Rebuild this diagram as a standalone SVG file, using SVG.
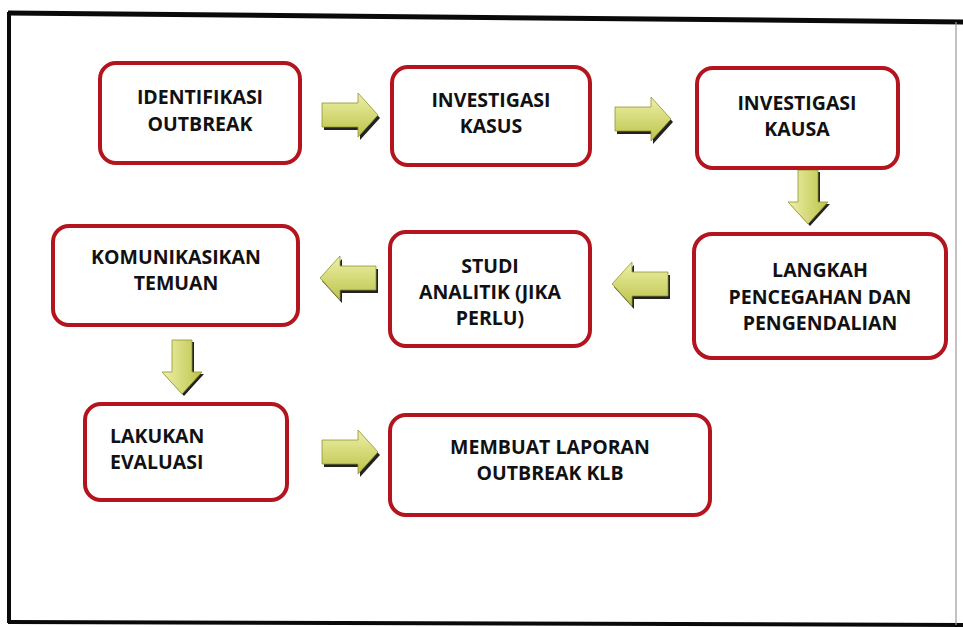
<svg xmlns="http://www.w3.org/2000/svg" width="963" height="627" viewBox="0 0 963 627">
<defs>
<linearGradient id="gr" x1="0" y1="0" x2="0" y2="1">
<stop offset="0" stop-color="#eef0a8"/>
<stop offset="1" stop-color="#bcc34a"/>
</linearGradient>
<linearGradient id="gd" x1="0" y1="0" x2="1" y2="0">
<stop offset="0" stop-color="#eef0a8"/>
<stop offset="1" stop-color="#bcc34a"/>
</linearGradient>
<path id="ar" d="M0,10 H36 V0 L56,22 L36,44 V34 H0 Z"/>
<path id="ad" d="M10,0 H30 V32 H40 L20,54 L0,32 H10 Z"/>
</defs>
<style>
.box{fill:#fff;stroke:#b3141e;stroke-width:4}
.t{font-family:"Open Sans","Liberation Sans",sans-serif;font-weight:700;font-size:19.5px;fill:#111;text-anchor:middle}
.l{text-anchor:start}
.sh{fill:#222}
.ah{fill:url(#gr);stroke:#8e9530;stroke-width:0.8}
.av{fill:url(#gd);stroke:#8e9530;stroke-width:0.8}
</style>
<rect width="963" height="627" fill="#fff"/>
<g id="frame" fill="none" stroke="#0a0a0a">
<path d="M8,13 L963,22" stroke-width="5"/>
<path d="M9,12 V623" stroke-width="4"/>
<path d="M8,622 L963,625" stroke-width="4"/>
<path d="M956,22 V625" stroke-width="1.2" stroke="#999"/>
</g>
<g id="connectors">
<g transform="translate(322,93)"><use href="#ar" class="sh" transform="translate(2,3)"/><use href="#ar" class="ah"/></g>
<g transform="translate(615,97)"><use href="#ar" class="sh" transform="translate(2,3)"/><use href="#ar" class="ah"/></g>
<g transform="translate(788,170)"><use href="#ad" class="sh" transform="translate(2,2)"/><use href="#ad" class="av"/></g>
<g transform="translate(668,262) scale(-1,1)"><use href="#ar" class="sh" transform="translate(-2,3)"/><use href="#ar" class="ah"/></g>
<g transform="translate(376,256) scale(-1,1)"><use href="#ar" class="sh" transform="translate(-2,3)"/><use href="#ar" class="ah"/></g>
<g transform="translate(162,340)"><use href="#ad" class="sh" transform="translate(2,2)"/><use href="#ad" class="av"/></g>
<g transform="translate(322,430)"><use href="#ar" class="sh" transform="translate(2,3)"/><use href="#ar" class="ah"/></g>
</g>
<g id="n1"><rect class="box" x="100" y="63" width="200" height="100" rx="16"/><text class="t" x="200" y="104">IDENTIFIKASI</text><text class="t" x="200" y="131">OUTBREAK</text></g>
<g id="n2"><rect class="box" x="392" y="67" width="198" height="98" rx="16"/><text class="t" x="491" y="107">INVESTIGASI</text><text class="t" x="491" y="133">KASUS</text></g>
<g id="n3"><rect class="box" x="697" y="68" width="201" height="100" rx="16"/><text class="t" x="797" y="110">INVESTIGASI</text><text class="t" x="797" y="136">KAUSA</text></g>
<g id="n4"><rect class="box" x="694" y="234" width="252" height="124" rx="18"/><text class="t" x="820" y="277">LANGKAH</text><text class="t" x="820" y="304">PENCEGAHAN DAN</text><text class="t" x="820" y="330">PENGENDALIAN</text></g>
<g id="n5"><rect class="box" x="390" y="232" width="200" height="114" rx="16"/><text class="t" x="490" y="273">STUDI</text><text class="t" x="490" y="299">ANALITIK (JIKA</text><text class="t" x="490" y="325">PERLU)</text></g>
<g id="n6"><rect class="box" x="53" y="226" width="245" height="99" rx="16"/><text class="t" x="176" y="264">KOMUNIKASIKAN</text><text class="t" x="176" y="290">TEMUAN</text></g>
<g id="n7"><rect class="box" x="85" y="404" width="202" height="96" rx="16"/><text class="t l" x="110" y="443">LAKUKAN</text><text class="t l" x="110" y="469">EVALUASI</text></g>
<g id="n8"><rect class="box" x="390" y="415" width="320" height="100" rx="16"/><text class="t" x="550" y="454">MEMBUAT LAPORAN</text><text class="t" x="550" y="480">OUTBREAK KLB</text></g>
</svg>
